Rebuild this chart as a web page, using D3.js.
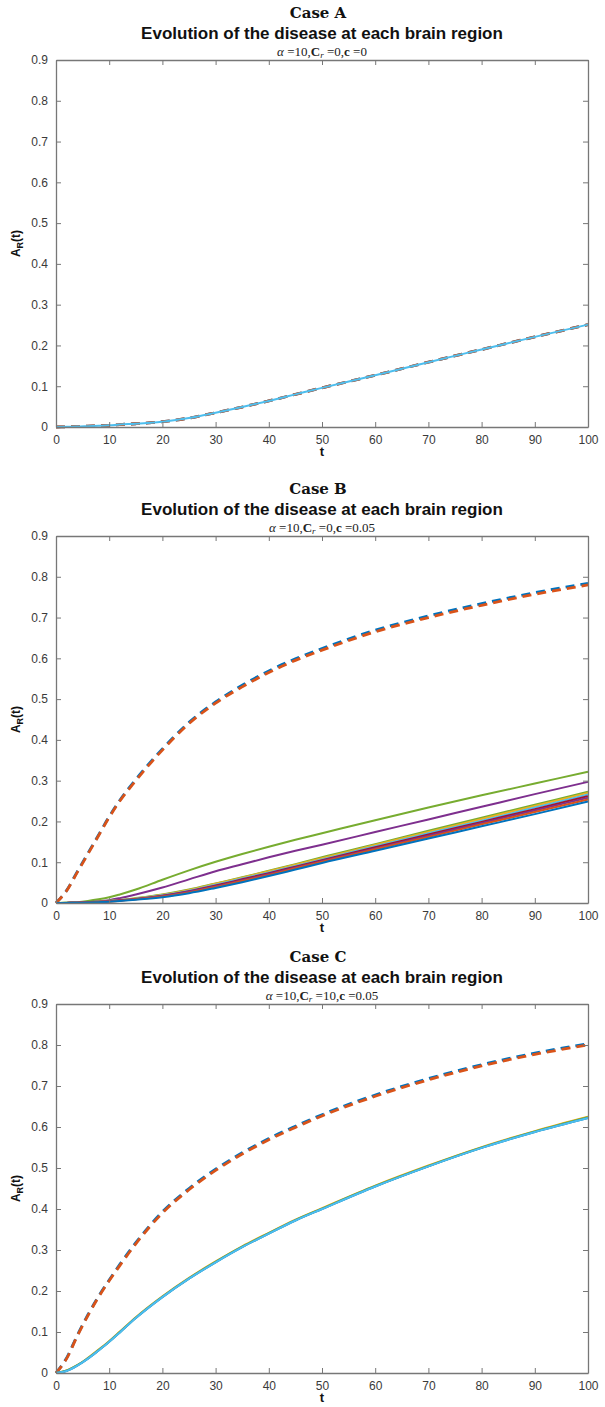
<!DOCTYPE html>
<html>
<head>
<meta charset="utf-8">
<script src="https://cdn.jsdelivr.net/npm/d3@7"></script>
<style>
  body { margin: 0; background: #fff; }
  .tick text { font-family: "Liberation Sans", Arial, sans-serif; font-size: 12px; fill: #3a3a3a; }
</style>
</head>
<body>
<div id="chart"></div>
<script>
// time grid shared by every series
var tVals = [0, 2, 4, 6, 8, 10, 12, 15, 20, 25, 30, 35, 40, 45, 50, 60, 70, 80, 90, 100];
var xTicks = [0, 10, 20, 30, 40, 50, 60, 70, 80, 90, 100];
var yTicks = [0, 0.1, 0.2, 0.3, 0.4, 0.5, 0.6, 0.7, 0.8, 0.9];

// Case A : every region follows the same curve
var aDashBlue   = [0, 0.0005, 0.001, 0.002, 0.003, 0.004, 0.006, 0.008, 0.013, 0.022, 0.035, 0.049, 0.064, 0.080, 0.096, 0.127, 0.159, 0.190, 0.221, 0.251];
var aDashOrange = [0, 0.0005, 0.001, 0.002, 0.003, 0.004, 0.006, 0.008, 0.013, 0.022, 0.035, 0.049, 0.064, 0.080, 0.096, 0.127, 0.159, 0.190, 0.221, 0.251];
var aSolid      = [0, 0.0005, 0.001, 0.002, 0.003, 0.004, 0.006, 0.008, 0.013, 0.022, 0.035, 0.049, 0.064, 0.080, 0.096, 0.127, 0.159, 0.190, 0.221, 0.251];

// Case B
var bDashBlue   = [0, 0.031, 0.077, 0.122, 0.167, 0.212, 0.252, 0.303, 0.378, 0.443, 0.493, 0.534, 0.569, 0.599, 0.624, 0.669, 0.704, 0.734, 0.761, 0.784];
var bDashOrange = [0, 0.030, 0.075, 0.120, 0.165, 0.210, 0.250, 0.300, 0.375, 0.440, 0.490, 0.530, 0.565, 0.595, 0.620, 0.665, 0.700, 0.730, 0.757, 0.780];
var bBlue    = [0, 0.0003, 0.0007, 0.0012, 0.002, 0.003, 0.005, 0.008, 0.014, 0.024, 0.037, 0.051, 0.066, 0.082, 0.098, 0.128, 0.158, 0.188, 0.218, 0.249];
var bOrange  = [0, 0.0003, 0.0008, 0.0014, 0.0025, 0.0035, 0.0055, 0.009, 0.016, 0.026, 0.039, 0.054, 0.069, 0.085, 0.101, 0.132, 0.162, 0.193, 0.223, 0.254];
var bPurple2 = [0, 0.0003, 0.0008, 0.0015, 0.0025, 0.004, 0.006, 0.0095, 0.017, 0.028, 0.041, 0.056, 0.071, 0.087, 0.103, 0.134, 0.165, 0.196, 0.227, 0.258];
var bRed     = [0, 0.0003, 0.0009, 0.0016, 0.0028, 0.0043, 0.0065, 0.010, 0.018, 0.029, 0.043, 0.058, 0.073, 0.089, 0.105, 0.137, 0.168, 0.199, 0.230, 0.262];
var bCyan    = [0, 0.0004, 0.001, 0.0018, 0.003, 0.0046, 0.007, 0.0105, 0.019, 0.030, 0.045, 0.060, 0.075, 0.091, 0.107, 0.139, 0.171, 0.202, 0.234, 0.266];
var bYellow  = [0, 0.0004, 0.001, 0.002, 0.003, 0.005, 0.007, 0.011, 0.020, 0.032, 0.047, 0.062, 0.078, 0.094, 0.110, 0.142, 0.174, 0.206, 0.238, 0.270];
var bGreen2  = [0, 0.0004, 0.001, 0.002, 0.0035, 0.0055, 0.0075, 0.012, 0.021, 0.033, 0.048, 0.063, 0.079, 0.095, 0.112, 0.144, 0.177, 0.209, 0.241, 0.273];
var bPurple  = [0, 0.0003, 0.001, 0.002, 0.004, 0.007, 0.012, 0.021, 0.038, 0.058, 0.078, 0.095, 0.112, 0.128, 0.143, 0.174, 0.205, 0.236, 0.267, 0.297];
var bGreen   = [0, 0.0005, 0.002, 0.005, 0.009, 0.014, 0.021, 0.033, 0.057, 0.080, 0.101, 0.120, 0.138, 0.155, 0.171, 0.203, 0.234, 0.264, 0.293, 0.322];

// Case C
var cDashBlue   = [0, 0.037, 0.092, 0.142, 0.187, 0.227, 0.265, 0.318, 0.393, 0.450, 0.497, 0.537, 0.572, 0.602, 0.630, 0.678, 0.718, 0.752, 0.780, 0.803];
var cDashOrange = [0, 0.035, 0.090, 0.140, 0.185, 0.225, 0.262, 0.315, 0.390, 0.447, 0.494, 0.534, 0.569, 0.599, 0.627, 0.675, 0.715, 0.749, 0.777, 0.800];
var cYellow = [0, 0.006, 0.019, 0.037, 0.057, 0.078, 0.101, 0.136, 0.187, 0.232, 0.272, 0.309, 0.342, 0.374, 0.402, 0.457, 0.506, 0.551, 0.590, 0.625];
var cGreen  = [0, 0.006, 0.019, 0.036, 0.056, 0.077, 0.100, 0.135, 0.186, 0.231, 0.271, 0.308, 0.341, 0.373, 0.401, 0.456, 0.505, 0.550, 0.589, 0.624];
var cBlue   = [0, 0.005, 0.018, 0.035, 0.055, 0.076, 0.099, 0.134, 0.185, 0.230, 0.270, 0.307, 0.340, 0.372, 0.400, 0.455, 0.504, 0.549, 0.588, 0.622];
var cCyan   = [0, 0.005, 0.018, 0.035, 0.055, 0.076, 0.099, 0.134, 0.185, 0.230, 0.270, 0.307, 0.340, 0.372, 0.400, 0.455, 0.504, 0.549, 0.588, 0.622];

// matlab default colour order
var mBlue = "#0072BD", mOrange = "#D95319", mYellow = "#EDB120", mPurple = "#7E2F8E",
    mGreen = "#77AC30", mCyan = "#4DBEEE", mRed = "#A2142F";

var panels = [
  { name: "Case A", top: 60, bottom: 427, cr: "0", c: "0",
    series: [
      { v: aDashBlue, color: mBlue, dash: true },
      { v: aDashOrange, color: mOrange, dash: true },
      { v: aSolid, color: mCyan }
    ] },
  { name: "Case B", top: 536, bottom: 903, cr: "0", c: "0.05",
    series: [
      { v: bDashBlue, color: mBlue, dash: true },
      { v: bDashOrange, color: mOrange, dash: true },
      { v: bGreen, color: mGreen },
      { v: bPurple, color: mPurple },
      { v: bGreen2, color: mGreen },
      { v: bYellow, color: mYellow },
      { v: bCyan, color: mCyan },
      { v: bRed, color: mRed },
      { v: bPurple2, color: mPurple },
      { v: bOrange, color: mOrange },
      { v: bBlue, color: mBlue }
    ] },
  { name: "Case C", top: 1004, bottom: 1373, cr: "10", c: "0.05",
    series: [
      { v: cDashBlue, color: mBlue, dash: true },
      { v: cDashOrange, color: mOrange, dash: true },
      { v: cYellow, color: mYellow },
      { v: cGreen, color: mGreen },
      { v: cBlue, color: mBlue },
      { v: cCyan, color: mCyan }
    ] }
];

var svgWidth = 605, svgHeight = 1407;
var left = 56, right = 588;

var svg = d3.select("#chart").append("svg")
  .attr("width", svgWidth)
  .attr("height", svgHeight);

panels.forEach(function(p) {
  var x = d3.scaleLinear().domain([0, 100]).range([left, right]);
  var y = d3.scaleLinear().domain([0, 0.9]).range([p.bottom, p.top]);
  var g = svg.append("g");
  var cx = (left + right) / 2;

  // titles
  g.append("text")
    .attr("x", cx - 4).attr("y", p.top - 42)
    .attr("text-anchor", "middle")
    .style("font-family", "'DejaVu Serif', 'Liberation Serif', serif")
    .style("font-weight", "bold").style("font-size", "15px").style("fill", "#111")
    .text(p.name);
  g.append("text")
    .attr("x", cx).attr("y", p.top - 21)
    .attr("text-anchor", "middle")
    .style("font-family", "'Liberation Sans', Arial, sans-serif")
    .style("font-weight", "bold").style("font-size", "17px").style("fill", "#111")
    .text("Evolution of the disease at each brain region");
  var sub = g.append("text")
    .attr("x", cx).attr("y", p.top - 4)
    .attr("text-anchor", "middle")
    .style("font-family", "'Liberation Serif', 'DejaVu Serif', serif")
    .style("font-size", "13px").style("fill", "#222");
  sub.append("tspan").style("font-style", "italic").text("\u03b1");
  sub.append("tspan").text(" =10,");
  sub.append("tspan").style("font-weight", "bold").text("C");
  sub.append("tspan").attr("dy", 2).style("font-size", "9px").style("font-style", "italic").text("r");
  sub.append("tspan").attr("dy", -2).text(" =" + p.cr + ",");
  sub.append("tspan").style("font-weight", "bold").text("c");
  sub.append("tspan").text(" =" + p.c);

  // lines
  var line = d3.line()
    .x(function(d, i) { return x(tVals[i]); })
    .y(function(d) { return y(d); })
    .curve(d3.curveMonotoneX);
  p.series.forEach(function(s) {
    g.append("path")
      .datum(s.v)
      .attr("d", line)
      .attr("fill", "none")
      .attr("stroke", s.color)
      .attr("stroke-width", s.dash ? 2.8 : 2)
      .attr("stroke-dasharray", s.dash ? "9,6" : null);
  });

  // axes, ticks pointing inward on all four sides
  var axisCol = "#777";
  var bottomAxis = d3.axisBottom(x).tickValues(xTicks).tickSizeInner(-5).tickSizeOuter(0).tickPadding(8);
  var topAxis = d3.axisTop(x).tickValues(xTicks).tickSizeInner(-5).tickSizeOuter(0).tickFormat("");
  var leftAxis = d3.axisLeft(y).tickValues(yTicks).tickSizeInner(-5).tickSizeOuter(0).tickPadding(8).tickFormat(d3.format("~g"));
  var rightAxis = d3.axisRight(y).tickValues(yTicks).tickSizeInner(-5).tickSizeOuter(0).tickFormat("");

  [g.append("g").attr("transform", "translate(0," + p.bottom + ")").call(bottomAxis),
   g.append("g").attr("transform", "translate(0," + p.top + ")").call(topAxis),
   g.append("g").attr("transform", "translate(" + left + ",0)").call(leftAxis),
   g.append("g").attr("transform", "translate(" + right + ",0)").call(rightAxis)
  ].forEach(function(a) {
    a.select(".domain").attr("stroke", axisCol).attr("stroke-width", 1.3);
    a.selectAll(".tick line").attr("stroke", axisCol);
  });

  // axis labels
  g.append("text")
    .attr("x", cx).attr("y", p.bottom + 29)
    .attr("text-anchor", "middle")
    .style("font-family", "'Liberation Sans', Arial, sans-serif")
    .style("font-weight", "bold").style("font-size", "13px").style("fill", "#111")
    .text("t");
  var yl = g.append("text")
    .attr("transform", "translate(20," + ((p.top + p.bottom) / 2) + ") rotate(-90)")
    .attr("text-anchor", "middle")
    .style("font-family", "'Liberation Sans', Arial, sans-serif")
    .style("font-weight", "bold").style("font-size", "12px").style("fill", "#111");
  yl.append("tspan").text("A");
  yl.append("tspan").attr("dy", 3).style("font-size", "9px").text("R");
  yl.append("tspan").attr("dy", -3).text("(t)");
});
</script>
</body>
</html>
